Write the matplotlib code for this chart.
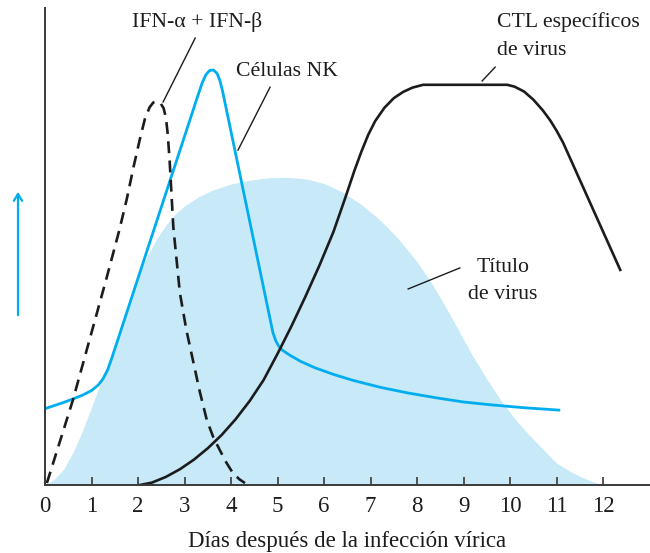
import matplotlib
matplotlib.use("Agg")
import matplotlib.pyplot as plt
from matplotlib.patches import FancyArrowPatch

# virus titre (filled area)
titer_x = [0, 0.2, 0.4, 0.6, 0.8, 1.0, 1.2, 1.4, 1.7, 2.0, 2.2, 2.4, 2.6, 2.8, 3.0, 3.3,
           3.6, 4.0, 4.4, 4.8, 5.2, 5.6, 6.0, 6.4, 6.8, 7.2, 7.6, 8.0, 8.3, 8.6, 8.9,
           9.2, 9.5, 9.8, 10.1, 10.4, 10.7, 11.0, 11.3, 11.6, 11.8, 12.0]
titer_y = [0, 1.2, 3.3, 6.8, 11.2, 16.3, 21.5, 26.5, 34.5, 44, 48, 51.6, 54.5, 56.8, 58.5, 60.4,
           61.8, 63.1, 63.9, 64.4, 64.5, 64.2, 63.2, 61.4, 58.8, 55.6, 51.6, 46.8, 42.5, 37.6, 32.3,
           27, 22.2, 17.8, 13.9, 10.6, 7.6, 4.6, 2.8, 1.4, 0.6, 0]

# NK cells
nk_x = [0, 0.4, 0.8, 1.0, 1.15, 1.25, 1.35, 1.45, 3.3, 3.38, 3.46, 3.54, 3.62, 3.7, 3.76,
        3.82, 4.9, 4.96, 5.02, 5.1, 5.25, 5.5, 5.8, 6.2, 6.6, 7.2, 7.8, 8.4, 9.0, 9.6,
        10.3, 11.05]
nk_y = [16, 17.3, 18.8, 19.8, 21, 22.3, 24.2, 27, 82, 84.3, 86, 86.9, 87, 86.3, 84.8,
        82.5, 32, 30.3, 29.2, 28.3, 27.3, 25.9, 24.6, 23.2, 22, 20.5, 19.3, 18.3, 17.4, 16.8,
        16.2, 15.7]

# IFN-alpha + IFN-beta
ifn_x = [0.04, 0.6, 1.33, 1.6, 1.76, 1.9, 2.04, 2.15, 2.25, 2.33, 2.4, 2.48, 2.55, 2.6,
         2.64, 2.68, 2.72, 2.76, 2.9, 3.04, 3.18, 3.33, 3.48, 3.62, 3.76, 3.9, 4.04, 4.18, 4.3]
ifn_y = [0.4, 17.8, 43.6, 53.5, 60, 66.5, 72.5, 76.8, 79.2, 80.2, 80.4, 80.1, 79, 77,
         73.5, 68, 61, 54, 40.3, 32.5, 26.2, 19.5, 13.6, 10, 7.3, 4.7, 2.5, 1.2, 0.4]

# virus-specific CTL
ctl_x = [2.04, 2.3, 2.6, 2.9, 3.2, 3.5, 3.8, 4.1, 4.4, 4.7, 5.0, 5.3, 5.6, 5.9, 6.2,
         6.45, 6.65, 6.8, 6.95, 7.1, 7.3, 7.5, 7.7, 7.9, 8.13, 9.94, 10.1, 10.3, 10.5,
         10.7, 10.86, 11.0, 11.14, 12.37]
ctl_y = [0, 0.5, 1.7, 3.3, 5.3, 7.7, 10.5, 13.8, 17.6, 22, 27.5, 33.3, 39.5, 46, 53,
         60, 65.8, 69.8, 73.4, 76.3, 79.1, 81.1, 82.4, 83.3, 83.9, 83.9, 83.5, 82.5, 80.8,
         78.6, 76.5, 74.3, 71.8, 45.1]

days = list(range(13))
xlabel = "Días después de la infección vírica"

blue = "#00aeef"
fill_blue = "#c7e9f8"
ink = "#1c1c1c"
serif = ["Liberation Serif", "DejaVu Serif"]

fig = plt.figure(figsize=(6.5, 5.53), dpi=100)
ax = fig.add_axes([45 / 650, 68 / 553, 605 / 650, 477 / 553])

ax.fill_between(titer_x, titer_y, 0, color=fill_blue, lw=0)
ax.plot(nk_x, nk_y, color=blue, lw=2.0, solid_joinstyle="round")
ax.plot(ifn_x, ifn_y, color=ink, lw=1.9, dashes=(4.5, 2.8))
ax.plot(ctl_x, ctl_y, color=ink, lw=1.9, solid_joinstyle="round")

ax.set_xlim(0, 13.01)
ax.set_ylim(0, 100)
for s in ["top", "right"]:
    ax.spines[s].set_visible(False)
for s in ["left", "bottom"]:
    ax.spines[s].set_color("#3a3a3a")
    ax.spines[s].set_linewidth(1.4)
ax.set_yticks([])
ax.set_xticks(days)
ax.set_xticklabels([str(d) for d in days], fontfamily=serif, fontsize=16.5, color=ink)
ax.tick_params(axis="x", direction="in", length=6, width=1.2, color="#3a3a3a", pad=8)
ax.set_xlabel(xlabel, fontfamily=serif, fontsize=16.5, color=ink, labelpad=10)

# labels and leader lines
txt = dict(fontfamily=serif, fontsize=15.7, color=ink)
ax.text(3.27, 97.1, "IFN-α + IFN-β", ha="center", va="center", **txt)
ax.plot([3.23, 2.54], [93.7, 80.3], color=ink, lw=1.0)
ax.text(5.2, 86.6, "Células NK", ha="center", va="center", **txt)
ax.plot([4.84, 4.15], [83.4, 70.2], color=ink, lw=1.0)
ax.text(9.72, 94.1, "CTL específicos\nde virus", ha="left", va="center", linespacing=1.6, **txt)
ax.plot([9.68, 9.4], [87.6, 84.7], color=ink, lw=1.0)
ax.text(9.85, 42.8, "Título\nde virus", ha="center", va="center", linespacing=1.6, **txt)
ax.plot([8.92, 7.81], [45.5, 41.1], color=ink, lw=1.0)

# blue arrow at the left
arrow = FancyArrowPatch((18 / 650, 235 / 553), (18 / 650, 364 / 553),
                        transform=fig.transFigure, arrowstyle="->,head_length=5,head_width=3",
                        color=blue, lw=1.6)
fig.add_artist(arrow)

fig.savefig("out.png", dpi=100)
